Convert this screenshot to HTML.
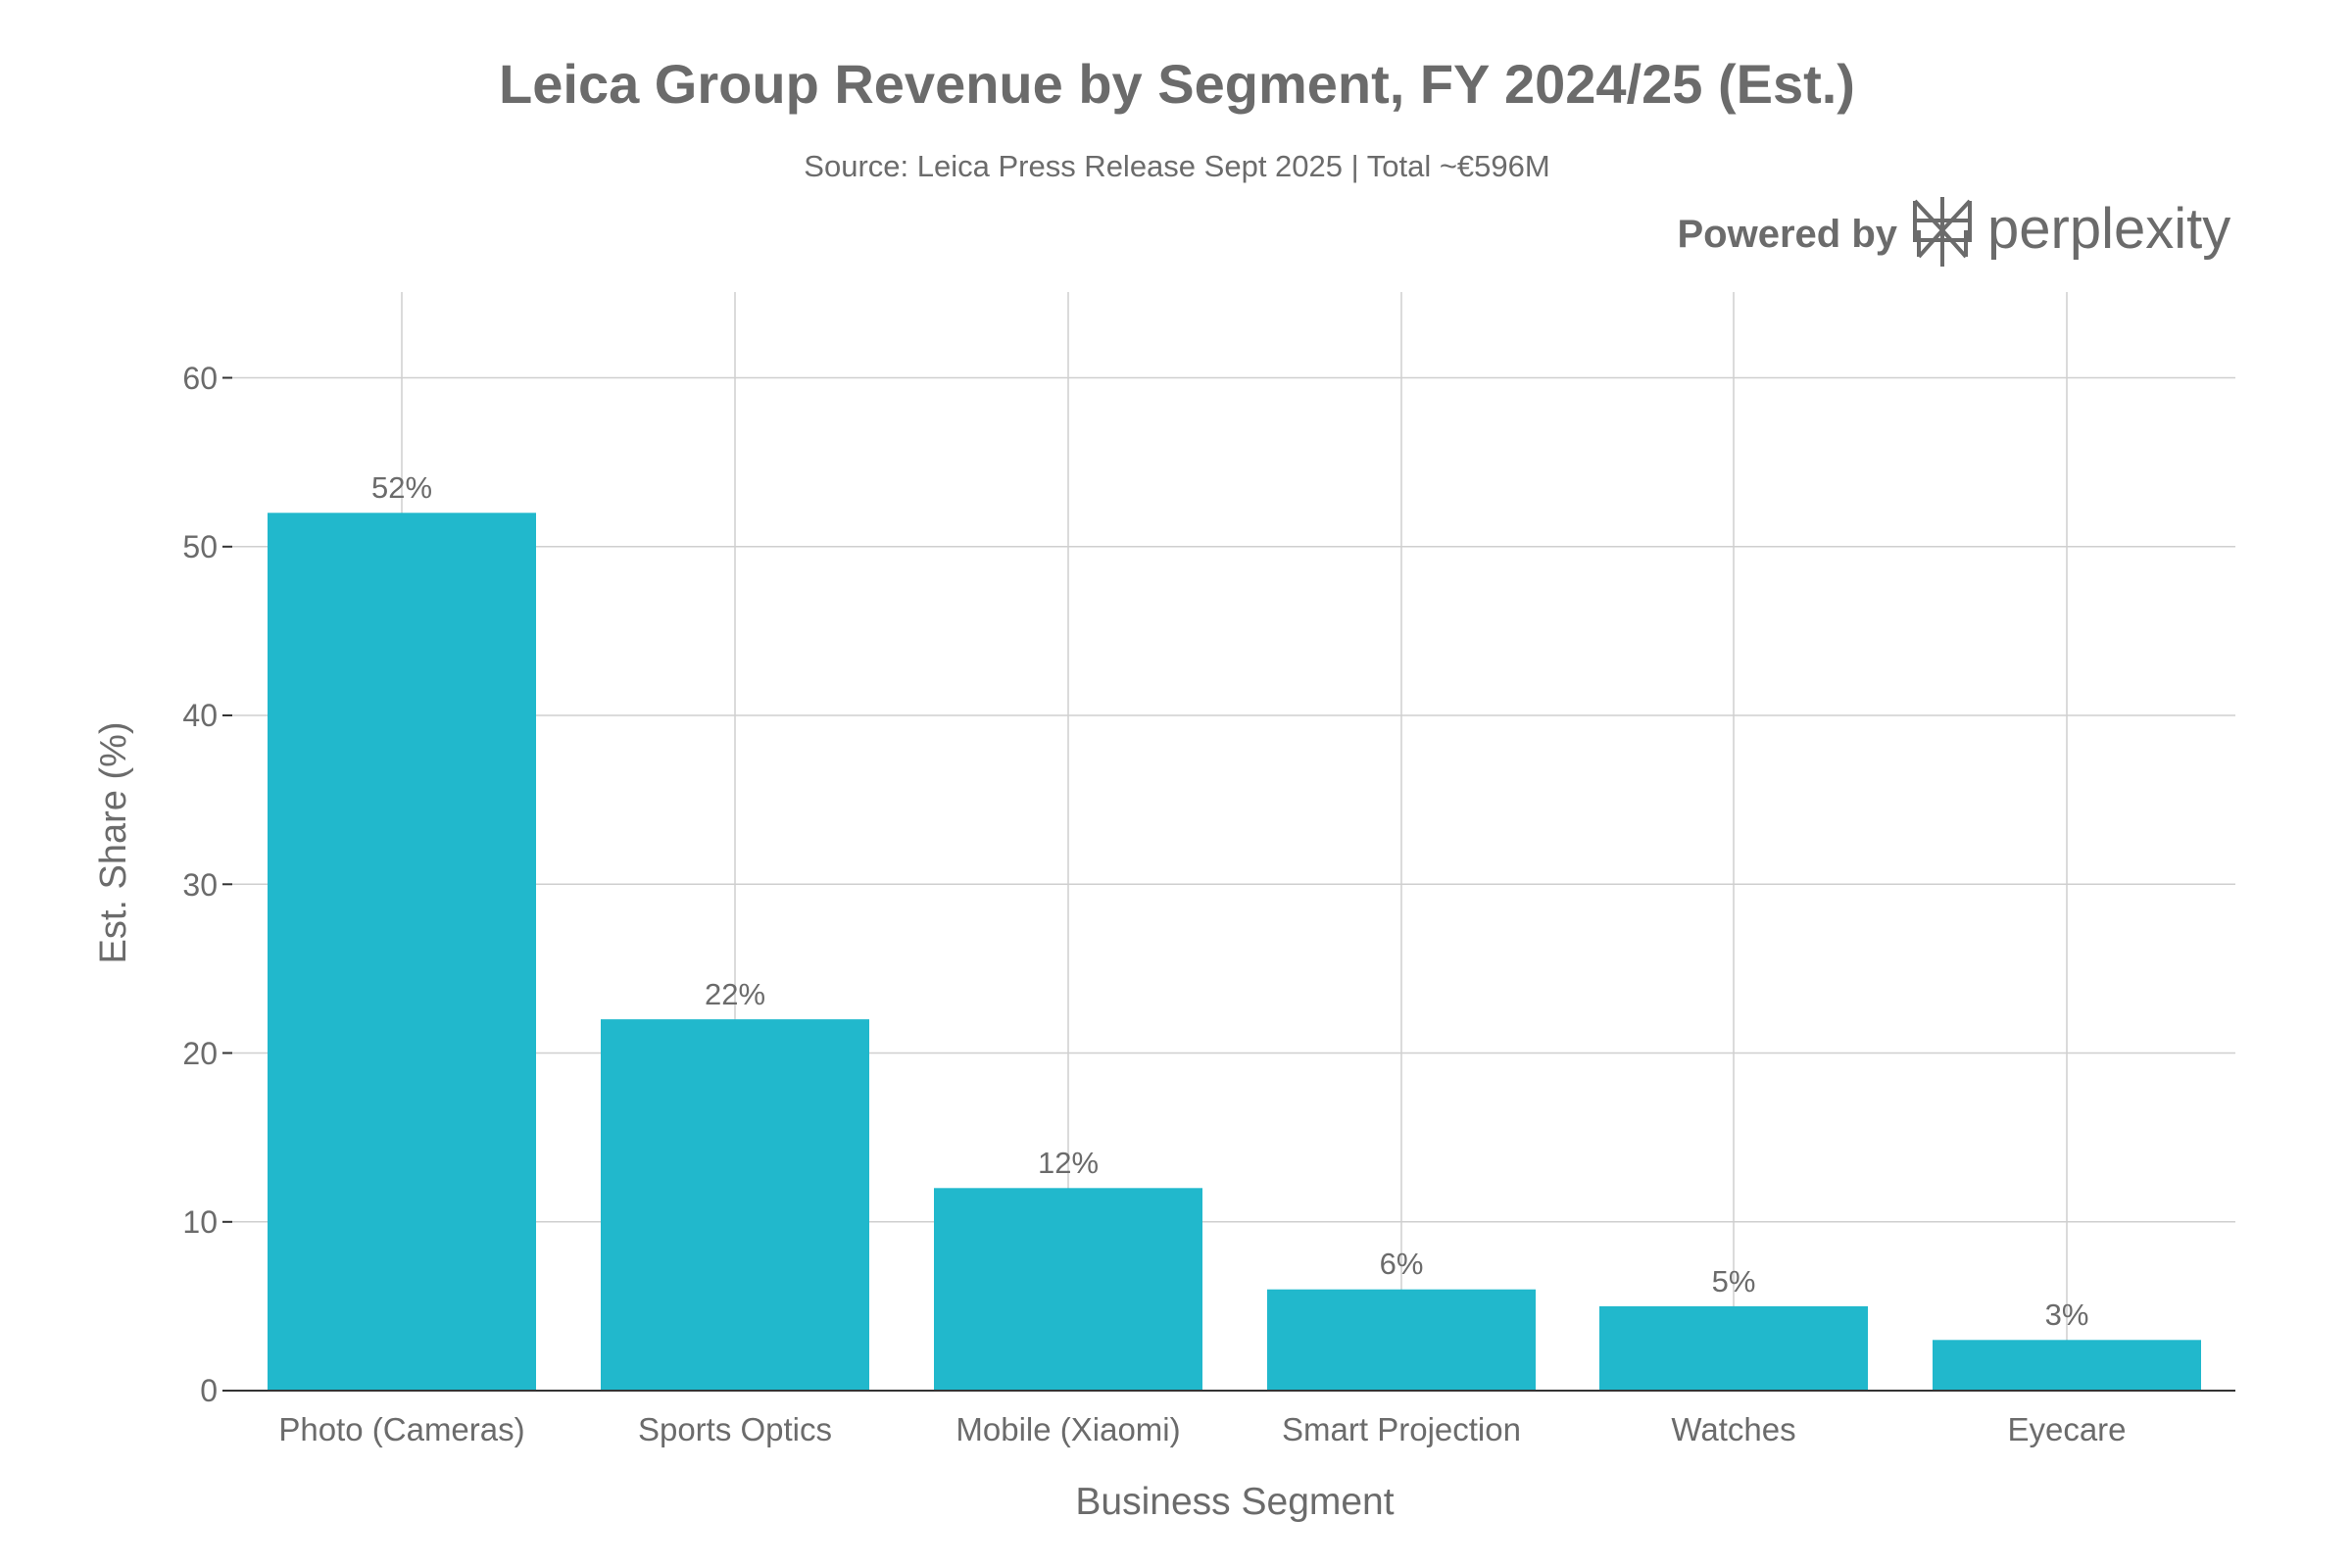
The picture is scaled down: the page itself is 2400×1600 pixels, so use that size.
<!DOCTYPE html>
<html><head><meta charset="utf-8"><style>
html,body{margin:0;padding:0;background:#fff;}
svg{display:block;font-family:"Liberation Sans",sans-serif;}
</style></head><body>
<svg width="2400" height="1600" viewBox="0 0 2400 1600" xmlns="http://www.w3.org/2000/svg">
<rect width="2400" height="1600" fill="#fff"/>
<text x="1201" y="105" text-anchor="middle" font-size="56" font-weight="bold" fill="#6b6b6b">Leica Group Revenue by Segment, FY 2024/25 (Est.)</text>
<text x="1201" y="180" text-anchor="middle" font-size="31" fill="#6b6b6b">Source: Leica Press Release Sept 2025 | Total ~€596M</text>
<text x="1936" y="252" text-anchor="end" font-size="40" font-weight="bold" fill="#6b6b6b">Powered by</text>
<g stroke="#6b6b6b" stroke-width="4" fill="none">
<path d="M1982 201 V272 M1954 205 L1982 235 L2010 205 M1954 205 V245 H2010 V205 M1958 262 L1982 235 L2006 262 M1958 262 V235 M2006 262 V235 M1954 225 H2010"/>
</g>
<text x="2028" y="253" font-size="58" fill="#6b6b6b">perplexity</text>
<g stroke="#cfcfcf" stroke-width="1.5">
<line x1="237" x2="2281" y1="385.5" y2="385.5"/>
<line x1="237" x2="2281" y1="557.8" y2="557.8"/>
<line x1="237" x2="2281" y1="730" y2="730"/>
<line x1="237" x2="2281" y1="902.3" y2="902.3"/>
<line x1="237" x2="2281" y1="1074.5" y2="1074.5"/>
<line x1="237" x2="2281" y1="1246.8" y2="1246.8"/>
<line x1="410" x2="410" y1="298" y2="1419"/>
<line x1="750" x2="750" y1="298" y2="1419"/>
<line x1="1090" x2="1090" y1="298" y2="1419"/>
<line x1="1430" x2="1430" y1="298" y2="1419"/>
<line x1="1769" x2="1769" y1="298" y2="1419"/>
<line x1="2109" x2="2109" y1="298" y2="1419"/>
</g>
<g fill="#21b8cc">
<rect x="273" y="523.3" width="274" height="895.7"/>
<rect x="613" y="1040.1" width="274" height="378.9"/>
<rect x="953" y="1212.3" width="274" height="206.7"/>
<rect x="1293" y="1315.7" width="274" height="103.3"/>
<rect x="1632" y="1332.9" width="274" height="86.1"/>
<rect x="1972" y="1367.3" width="274" height="51.7"/>
</g>
<line x1="227" x2="2281" y1="1419" y2="1419" stroke="#333" stroke-width="2"/>
<g stroke="#333" stroke-width="2">
<line x1="227" x2="237" y1="385.5" y2="385.5"/><line x1="227" x2="237" y1="557.8" y2="557.8"/>
<line x1="227" x2="237" y1="730" y2="730"/><line x1="227" x2="237" y1="902.3" y2="902.3"/>
<line x1="227" x2="237" y1="1074.5" y2="1074.5"/><line x1="227" x2="237" y1="1246.8" y2="1246.8"/>
</g>
<g font-size="32" fill="#6b6b6b" text-anchor="end">
<text x="222" y="397">60</text><text x="222" y="569">50</text><text x="222" y="741">40</text>
<text x="222" y="914">30</text><text x="222" y="1086">20</text><text x="222" y="1258">10</text><text x="222" y="1430">0</text>
</g>
<g font-size="33" fill="#6b6b6b" text-anchor="middle">
<text x="410" y="1470">Photo (Cameras)</text><text x="750" y="1470">Sports Optics</text>
<text x="1090" y="1470">Mobile (Xiaomi)</text><text x="1430" y="1470">Smart Projection</text>
<text x="1769" y="1470">Watches</text><text x="2109" y="1470">Eyecare</text>
</g>
<g font-size="31" fill="#6b6b6b" text-anchor="middle">
<text x="410" y="508">52%</text><text x="750" y="1025">22%</text><text x="1090" y="1197">12%</text>
<text x="1430" y="1300">6%</text><text x="1769" y="1318">5%</text><text x="2109" y="1352">3%</text>
</g>
<text x="1260" y="1545" text-anchor="middle" font-size="39" fill="#6b6b6b">Business Segment</text>
<text transform="translate(128,860) rotate(-90)" text-anchor="middle" font-size="38" fill="#6b6b6b">Est. Share (%)</text>
</svg>
</body></html>
